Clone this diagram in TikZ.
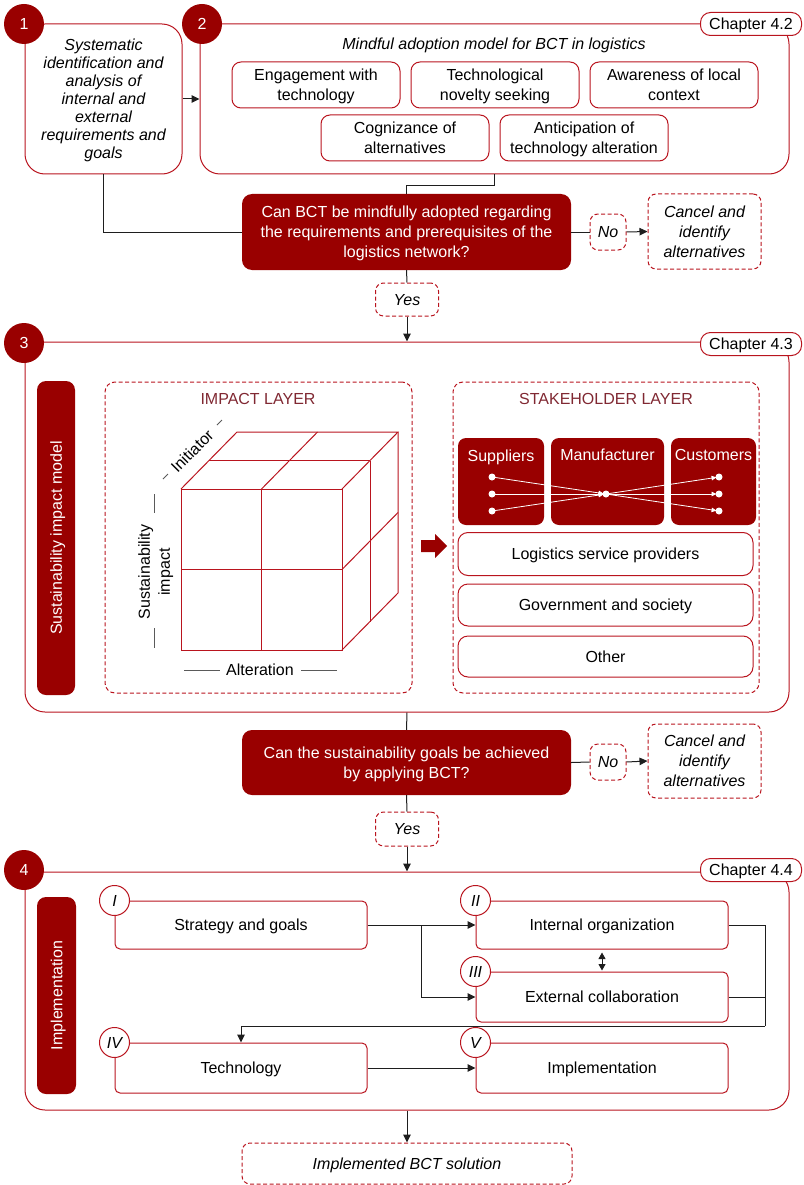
\documentclass[tikz,border=0pt]{standalone}
\usepackage{fontspec}
\setmainfont{Liberation Sans}
\usetikzlibrary{arrows.meta,calc}
\definecolor{dred}{RGB}{153,0,0}
\definecolor{bred}{RGB}{185,20,30}
\definecolor{tred}{RGB}{128,40,50}
\definecolor{lgray}{RGB}{30,30,30}
\definecolor{agray}{RGB}{90,90,90}
\begin{document}
\begin{tikzpicture}[x=1pt,y=-1pt,
  every node/.style={font=\fontsize{16}{20}\selectfont, inner sep=0pt, align=center, text depth=0pt},
  container/.style={draw=bred, line width=1pt, rounded corners=20pt},
  numcirc/.style={circle, fill=dred, minimum size=40pt, text=white},
  chap/.style={draw=bred, fill=white, line width=1pt, rounded corners=10pt, minimum width=101pt, minimum height=23pt},
  subbox/.style={draw=bred, line width=1pt, rounded corners=9pt, minimum width=168pt, minimum height=46pt},
  decision/.style={fill=dred, rounded corners=10pt, text=white, minimum width=329pt},
  dashbox/.style={draw=bred, dash pattern=on 4pt off 2.5pt, line width=1pt, rounded corners=8pt, fill=white, font=\fontsize{16}{20}\selectfont\itshape},
  sidebar/.style={fill=dred, rounded corners=9pt, text=white, rotate=90},
  layerbox/.style={draw=bred, dash pattern=on 4pt off 2.5pt, line width=1pt, rounded corners=10pt},
  shfill/.style={fill=dred, rounded corners=8pt},
  shbox/.style={draw=bred, line width=1pt, rounded corners=10pt, minimum width=295pt},
  stepbox/.style={draw=bred, line width=1pt, rounded corners=5pt, minimum width=252pt},
  romcirc/.style={circle, draw=bred, fill=white, line width=1pt, minimum size=30pt, font=\fontsize{16}{20}\selectfont\itshape},
  cube/.style={draw=bred, line width=1pt},
  conn/.style={draw=lgray, line width=1pt},
  arr/.style={conn, -{Triangle[length=8pt,width=7.5pt]}},
  dot/.style={circle, fill=white, minimum size=7pt},
  warr/.style={draw=white, line width=0.8pt, -{Triangle[length=5pt,width=4.5pt]}, shorten >=2.5pt},
  axisline/.style={draw=agray, line width=0.9pt}
]
\useasboundingbox (0,0) rectangle (803,1185);

% ---------- Section 1 & 2 ----------
\node[container, minimum width=157pt, minimum height=150pt,
      font=\fontsize{16}{18}\selectfont\itshape] (box1) at (103.5,99)
  {Systematic\\identification and\\analysis of\\internal and\\external\\requirements and\\goals};
\node[container, minimum width=589pt, minimum height=150pt] (box2) at (494.5,99) {};
\node[font=\fontsize{16}{20}\selectfont\itshape] (title2) at (494,44) {Mindful adoption model for BCT in logistics};
\node[subbox] (eng) at (316,85) {Engagement with\\technology};
\node[subbox] (nov) at (495,85) {Technological\\novelty seeking};
\node[subbox] (awa) at (674,85) {Awareness of local\\context};
\node[subbox] (cog) at (405,138) {Cognizance of\\alternatives};
\node[subbox] (ant) at (584,138) {Anticipation of\\technology alteration};
\node[numcirc] (c1) at (24,24) {1};
\node[numcirc] (c2) at (202,24) {2};
\node[chap] (ch42) at (751,24) {Chapter 4.2};

\draw[arr] (box1.east) -- (box2.west);

% ---------- Decision 1 ----------
\node[decision, minimum height=76pt] (dec1) at (406.5,232)
  {Can BCT be mindfully adopted regarding\\the requirements and prerequisites of the\\logistics network?};
\node[dashbox, minimum width=36pt, minimum height=36pt] (no1) at (608,232) {No};
\node[dashbox, minimum width=113pt, minimum height=75pt] (can1) at (704.5,231.5) {Cancel and\\identify\\alternatives};
\node[dashbox, minimum width=63pt, minimum height=33pt] (yes1) at (407,299.5) {Yes};

\draw[conn] (box1.south) |- (dec1.west);
\draw[conn] (box2.south) -- ++(0,11) -| (dec1.north);
\draw[conn] (dec1.east) -- (no1.west);
\draw[arr] (no1.east) -- (can1.west);
\draw[conn] (dec1.south) -- (yes1.north);

% ---------- Section 3 ----------
\node[container, minimum width=764pt, minimum height=370pt] (box3) at (407,527) {};
\draw[arr] (yes1.south) -- (box3.north);
\node[numcirc] (c3) at (24,343) {3};
\node[chap] (ch43) at (751,344) {Chapter 4.3};
\node[sidebar, minimum width=314pt, minimum height=38pt] (side3) at (56,538) {Sustainability impact model};

\node[layerbox, minimum width=307pt, minimum height=311pt] (impact) at (258.5,537.5) {};
\node[text=tred] (impt) at (258,399) {IMPACT LAYER};
\node[layerbox, minimum width=306pt, minimum height=311pt] (stake) at (606,537.5) {};
\node[text=tred] (staket) at (606,399) {STAKEHOLDER LAYER};

% cube
\draw[cube] (181,489) rectangle (342,650);
\draw[cube] (261.5,489) -- (261.5,650);
\draw[cube] (181,569.5) -- (342,569.5);
\draw[cube] (181,489) -- (237,432) -- (398,432) -- (342,489);
\draw[cube] (209,460.5) -- (370,460.5);
\draw[cube] (261.5,489) -- (317.5,432);
\draw[cube] (398,432) -- (398,593) -- (342,650);
\draw[cube] (370,460.5) -- (370,621.5);
\draw[cube] (342,569.5) -- (398,512.5);

\node[rotate=45] (init) at (192,451) {Initiator};
\draw[axisline] (163,479) -- (168,474);
\draw[axisline] (217,425) -- (222,420);
\node[rotate=90] (susimp) at (154,572) {Sustainability\\impact};
\draw[axisline] (154,494) -- (154,513);
\draw[axisline] (154,628) -- (154,648);
\node (alt) at (260,670) {Alteration};
\draw[axisline] (184,670) -- (220,670);
\draw[axisline] (301,670) -- (337,670);

% fat arrow
\fill[dred] (421,540) -- (435,540) -- (435,534) -- (447,546) -- (435,558) -- (435,552) -- (421,552) -- cycle;

% stakeholders
\node[shfill, minimum width=86pt, minimum height=87pt] (sup) at (501,481.5) {};
\node[shfill, minimum width=113pt, minimum height=87pt] (man) at (607.5,481.5) {};
\node[shfill, minimum width=85pt, minimum height=87pt] (cus) at (713.5,481.5) {};
\node[text=white] (supt) at (501,456) {Suppliers};
\node[text=white] (mant) at (607.5,455) {Manufacturer};
\node[text=white] (cust) at (713.5,455) {Customers};
\node[dot] (s1) at (492,477) {};
\node[dot] (s2) at (492,494) {};
\node[dot] (s3) at (492,511) {};
\node[dot] (m0) at (606,494) {};
\node[dot] (k1) at (719,477) {};
\node[dot] (k2) at (719,494) {};
\node[dot] (k3) at (719,511) {};
\foreach \s in {s1,s2,s3} \draw[warr] (\s.center) -- (m0.center);
\foreach \k in {k1,k2,k3} \draw[warr] (m0.center) -- (\k.center);

\node[shbox, minimum height=43pt] (lsp) at (605.5,554) {Logistics service providers};
\node[shbox, minimum height=42pt] (gov) at (605.5,605) {Government and society};
\node[shbox, minimum height=41pt] (oth) at (605.5,656.5) {Other};

% ---------- Decision 2 ----------
\node[decision, minimum height=65pt] (dec2) at (406.5,762.5)
  {Can the sustainability goals be achieved\\by applying BCT?};
\node[dashbox, minimum width=36pt, minimum height=36pt] (no2) at (608,762) {No};
\node[dashbox, minimum width=113pt, minimum height=74pt] (can2) at (704.5,761) {Cancel and\\identify\\alternatives};
\node[dashbox, minimum width=63pt, minimum height=34pt] (yes2) at (407,829) {Yes};
\draw[conn] (box3.south) -- (dec2.north);
\draw[conn] (dec2.east) -- (no2.west);
\draw[arr] (no2.east) -- (can2.west);
\draw[conn] (dec2.south) -- (yes2.north);

% ---------- Section 4 ----------
\node[container, minimum width=764pt, minimum height=238pt] (box4) at (407,991) {};
\draw[arr] (yes2.south) -- (box4.north);
\node[numcirc] (c4) at (24,870) {4};
\node[chap] (ch44) at (751,870) {Chapter 4.4};
\node[sidebar, minimum width=197pt, minimum height=39pt] (side4) at (56.5,995.5) {Implementation};

\node[stepbox, minimum height=48pt] (st1) at (241,925) {Strategy and goals};
\node[stepbox, minimum height=48pt] (st2) at (602,925) {Internal organization};
\node[stepbox, minimum height=50pt] (st3) at (602,997) {External collaboration};
\node[stepbox, minimum height=50pt] (st4) at (241,1068) {Technology};
\node[stepbox, minimum height=50pt] (st5) at (602,1068) {Implementation};
\node[romcirc] (r1) at (st1.north west) {I};
\node[romcirc] (r2) at (st2.north west) {II};
\node[romcirc] (r3) at (st3.north west) {III};
\node[romcirc] (r4) at (st4.north west) {IV};
\node[romcirc] (r5) at (st5.north west) {V};

\coordinate (br) at (421,925);
\coordinate (rr) at (765,1026);
\draw[arr] (st1.east) -- (st2.west);
\draw[arr] (br) |- (st3.west);
\draw[conn, {Triangle[length=6.5pt,width=7pt]}-{Triangle[length=6.5pt,width=7pt]}] ($(st2.south)+(0,3)$) -- ($(st3.north)+(0,-1)$);
\draw[conn] (st2.east) -| (rr);
\draw[conn] (st3.east) -- (st3.east -| rr);
\draw[arr] (rr) -| (st4.north);
\draw[arr] (st4.east) -- (st5.west);

\node[dashbox, minimum width=330pt, minimum height=41pt] (impl) at (407,1163.5) {Implemented BCT solution};
\draw[arr] (box4.south) -- (impl.north);
\end{tikzpicture}
\end{document}
